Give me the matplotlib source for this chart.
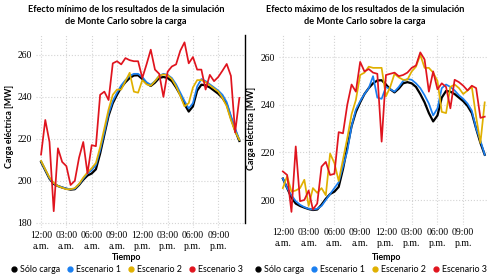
import numpy as np
import matplotlib
matplotlib.use("Agg")
import matplotlib.pyplot as plt
from matplotlib.lines import Line2D

# half-hourly load, hour 0 to 23.5
horas = np.arange(0, 24, 0.5)
tick_horas = [0, 3, 6, 9, 12, 15, 18, 21]
tick_textos = ["12:00\na.m.", "03:00\na.m.", "06:00\na.m.", "09:00\na.m.",
               "12:00\np.m.", "03:00\np.m.", "06:00\np.m.", "09:00\np.m."]

solo_carga = [209, 205, 201, 198.5, 197.5, 196.8, 196.2, 195.8, 196, 198,
              200.5, 202.5, 203.5, 205.5, 213, 222, 231, 237, 241, 244.5,
              247, 249, 250.2, 250.3, 248.5, 246.5, 245.2, 246.8, 249, 249.5,
              249, 247.5, 244.5, 241, 236.5, 233, 235.5, 243, 245.8, 245.5,
              244.5, 243, 241.5, 239.5, 236.5, 230, 224, 219]

# efecto minimo
min_esc1 = [209.3, 205.2, 201.2, 198.8, 197.6, 196.9, 196.3, 196, 196.2, 198.3,
            201, 203.5, 205, 207.5, 214.5, 223, 232, 238, 242, 245.5,
            248, 250, 251, 251, 249.5, 247, 245.8, 247.5, 250, 251,
            250.5, 249, 246, 242, 238, 234.5, 237, 245, 248.5, 247.5,
            246, 244.5, 243, 241, 237.5, 231, 225, 219.5]
min_esc2 = [209.5, 205.5, 201.5, 199, 197.5, 196.7, 196, 196, 196.5, 198.5,
            201.5, 204, 206, 208.5, 216, 225, 234, 241, 243.5, 243.5,
            247.5, 251.5, 242.5, 242, 248, 246, 245.3, 247.5, 250, 250.7,
            250.3, 248.5, 245, 240.5, 235.5, 237, 244.5, 248, 248, 247,
            245.5, 244, 242.5, 239.5, 235.5, 229, 223.5, 219.5]
min_esc3 = [212.5, 229, 218.5, 185.5, 215.5, 209, 207, 198, 200, 211,
            218.5, 203.5, 217, 216.5, 241, 242.5, 238.5, 256, 257, 255.5,
            258.5, 257.5, 257, 257, 249, 255.5, 262.5, 253, 251, 240,
            252, 254.5, 255.5, 262, 266, 256, 259, 253, 253, 243.5,
            250.5, 247.5, 249.5, 252.5, 255.7, 250, 223, 239.5]

# efecto maximo
max_esc1 = [209, 205, 202, 199.5, 198, 197, 196.3, 196, 196.3, 197.5,
            200, 202.5, 205, 207.5, 214, 220.5, 231, 238, 241.5, 244.5,
            247, 252, 243, 242.5, 247.5, 246.5, 245.5, 247.5, 250, 250.8,
            250.5, 249, 247, 244, 240.5, 235.5, 238.5, 247, 248.5, 247.5,
            246, 244, 242.5, 240.5, 237.5, 230, 225, 219]
max_esc2 = [205, 210, 203.5, 204, 205, 208.5, 197.5, 205, 203, 205,
            202, 219.5, 215.5, 208, 217, 226, 236, 242, 252.5, 253.5,
            256, 255.5, 255.5, 255.5, 243.5, 247.5, 253, 251.5, 250.5, 250.5,
            254, 256, 261, 255.5, 255.5, 253.5, 250, 237, 236.5, 247.5,
            248.5, 247, 244.5, 246, 247.5, 235, 224, 241]
max_esc3 = [212, 210.5, 195, 222.5, 199.5, 200, 204, 196, 198.5, 214,
            216, 210.5, 211, 228.5, 228, 240, 248.5, 245.5, 258, 254,
            255, 253.5, 253, 224.5, 252.5, 253, 253.5, 252, 252.5, 253.5,
            255.5, 256.5, 262, 259, 245.5, 254, 246.5, 249, 247.5, 238.5,
            250.5, 249.5, 248, 246, 248, 247, 234.5, 235]

nombres = ["Sólo carga", "Escenario 1", "Escenario 2", "Escenario 3"]
colores = ["#000000", "#1a7ff0", "#e0b000", "#e0141e"]
anchos = [1.6, 1.25, 1.25, 1.25]

W, H = 489, 278
sans = ["Lato", "DejaVu Sans"]
serif = ["Liberation Serif", "DejaVu Serif"]

fig = plt.figure(figsize=(W / 100, H / 100), dpi=100)


def px(x0, y0, x1, y1):
    return [x0 / W, 1 - y1 / H, (x1 - x0) / W, (y1 - y0) / H]


def panel(ax, series, ylim, yticks):
    for s, c, lw in zip(series, colores, anchos):
        ax.plot(horas, s, color=c, lw=lw, solid_joinstyle="round")
    ax.set_ylim(*ylim)
    ax.set_yticks(yticks)
    ax.set_xticks(tick_horas)
    ax.set_xticklabels(tick_textos, family=serif, fontsize=7, linespacing=1.3)
    for t in ax.get_yticklabels():
        t.set_family(serif)
        t.set_fontsize(7)
    ax.tick_params(axis="y", length=0, pad=3)
    ax.tick_params(axis="x", length=0, pad=2)
    ax.grid(True, color="#d4d4d4", ls=":", lw=0.8)
    for sp in ax.spines.values():
        sp.set_visible(False)
    ax.set_axisbelow(True)


ax1 = fig.add_axes(px(36, 35, 244, 228))
panel(ax1, [solo_carga, min_esc1, min_esc2, min_esc3], (177.5, 269.5), [180, 200, 220, 240, 260])
ax1.set_xlim(-0.6, 24.05)

ax2 = fig.add_axes(px(279, 35, 489, 225))
panel(ax2, [solo_carga, max_esc1, max_esc2, max_esc3], (189.5, 269.3), [200, 220, 240, 260])
ax2.set_xlim(-0.45, 24.0)

# titles, labels
tit = dict(ha="center", va="center", family=sans, weight="bold", fontsize=6.6)
fig.text(126 / W, 1 - 10 / H, "Efecto mínimo de los resultados de la simulación", **tit)
fig.text(126 / W, 1 - 22 / H, "de Monte Carlo sobre la carga", **tit)
fig.text(365 / W, 1 - 10 / H, "Efecto máximo de los resultados de la simulación", **tit)
fig.text(365 / W, 1 - 22 / H, "de Monte Carlo sobre la carga", **tit)

lab = dict(ha="center", va="center", family=sans, weight="bold", fontsize=6.3)
fig.text(10 / W, 1 - 126 / H, "Carga eléctrica [MW]", rotation=90, **lab)
fig.text(252 / W, 1 - 128 / H, "Carga eléctrica [MW]", rotation=90, **lab)
fig.text(127 / W, 1 - 257 / H, "Tiempo", **lab)
fig.text(387 / W, 1 - 257 / H, "Tiempo", **lab)

# separator
fig.add_artist(Line2D([245 / W, 245 / W], [1 - 35 / H, 1 - 223 / H], color="black", lw=1))

handles = [Line2D([], [], ls="none", marker="o", ms=3.5, color=c) for c in colores]
for cx in (127, 371):
    fig.legend(handles, nombres, loc="center", bbox_to_anchor=(cx / W, 1 - 269.5 / H),
               ncol=4, frameon=False, handlelength=0.6, handletextpad=0.3,
               columnspacing=0.9, borderaxespad=0, borderpad=0,
               prop={"family": sans, "size": 6.4})

fig.savefig("out.png", dpi=100)
